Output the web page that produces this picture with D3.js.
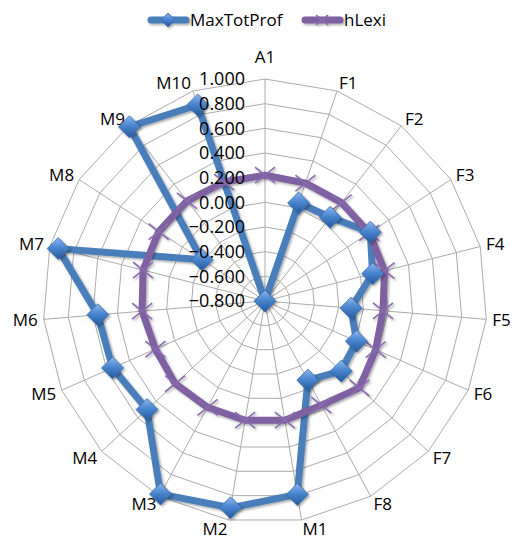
<!DOCTYPE html>
<html>
<head>
<meta charset="utf-8">
<script src="https://cdn.jsdelivr.net/npm/d3@7"></script>
<style>
  html, body { margin: 0; padding: 0; background: #ffffff; }
  svg { display: block; }
  text { font-family: "Open Sans", "Liberation Sans", sans-serif; fill: #000; }
</style>
</head>
<body>
<svg id="chart" width="512" height="543"></svg>
<script>
// ---- data ----
const categories = ["A1","F1","F2","F3","F4","F5","F6","F7","F8","M1","M2","M3","M4","M5","M6","M7","M8","M9","M10"];
const maxTotProf = [-0.80, 0.04, 0.06, 0.22, 0.10, -0.10, 0.01, 0.04, -0.07, 0.79, 0.90, 0.98, 0.50, 0.55, 0.56, 0.93, -0.19, 0.99, 0.88];
const hLexi      = [0.22, 0.21, 0.21, 0.21, 0.20, 0.16, 0.18, 0.24, 0.16, 0.18, 0.18, 0.18, 0.19, 0.17, 0.20, 0.22, 0.23, 0.23, 0.22];
const tickValues = [-0.8, -0.6, -0.4, -0.2, 0.0, 0.2, 0.4, 0.6, 0.8, 1.0];
const seriesNames = ["MaxTotProf", "hLexi"];

// ---- layout ----
const svg = d3.select("#chart");
const cx = 265, cy = 301, R = 222;
const n = categories.length;
const r = d3.scaleLinear().domain([-0.8, 1.0]).range([0, R]);
const ang = d3.scaleLinear().domain([0, n]).range([0, 2 * Math.PI]);
const pt = (i, v) => [cx + r(v) * Math.sin(ang(i)), cy - r(v) * Math.cos(ang(i))];

const defs = svg.append("defs");
const grad = defs.append("linearGradient").attr("id", "diamondGrad")
  .attr("x1", "0").attr("y1", "0").attr("x2", "0").attr("y2", "1");
grad.append("stop").attr("offset", "0%").attr("stop-color", "#8db7ef");
grad.append("stop").attr("offset", "45%").attr("stop-color", "#4a86d0");
grad.append("stop").attr("offset", "100%").attr("stop-color", "#24589a");
const shadow = defs.append("filter").attr("id", "shadow").attr("x", "-20%").attr("y", "-20%").attr("width", "140%").attr("height", "140%");
shadow.append("feDropShadow").attr("dx", 1.5).attr("dy", 1.5).attr("stdDeviation", 1.2).attr("flood-color", "#000").attr("flood-opacity", 0.35);

// ---- grid ----
const grid = svg.append("g");
tickValues.slice(1).forEach(t => {
  grid.append("path")
    .attr("d", d3.line()(d3.range(n).map(i => pt(i, t))) + "Z")
    .attr("fill", "none").attr("stroke", "#ababab").attr("stroke-width", 1);
});
d3.range(n).forEach(i => {
  const [x, y] = pt(i, 1.0);
  grid.append("line").attr("x1", cx).attr("y1", cy).attr("x2", x).attr("y2", y)
    .attr("stroke", "#ababab").attr("stroke-width", 1);
});

// ---- category labels ----
const lab = svg.append("g").style("font-size", "17px");
categories.forEach((c, i) => {
  const a = ang(i), sx = Math.sin(a), cyy = -Math.cos(a);
  const [vx, vy] = pt(i, 1.0);
  let x, y, anchor;
  if (Math.abs(sx) < 0.05) {
    anchor = "middle"; x = vx; y = vy + cyy * 22;
  } else {
    anchor = sx > 0 ? "start" : "end";
    x = vx + sx * 6; y = vy + cyy * 9;
  }
  lab.append("text").attr("x", x).attr("y", y).attr("dy", "0.36em")
    .attr("text-anchor", anchor).text(c);
});

// ---- series ----
const lineGen = d3.line().x(d => d[0]).y(d => d[1]).curve(d3.curveLinearClosed);

const blueG = svg.append("g").attr("filter", "url(#shadow)");
blueG.append("path")
  .attr("d", lineGen(maxTotProf.map((v, i) => pt(i, v))))
  .attr("fill", "none").attr("stroke", "#4a7ebb").attr("stroke-width", 7)
  .attr("stroke-linejoin", "round");

const purpleG = svg.append("g").attr("filter", "url(#shadow)");
purpleG.append("path")
  .attr("d", lineGen(hLexi.map((v, i) => pt(i, v))))
  .attr("fill", "none").attr("stroke", "#7f60a0").attr("stroke-width", 7)
  .attr("stroke-linejoin", "round");

const xMark = (g, x, y, h) => {
  g.append("path")
    .attr("d", `M${x - h},${y - h * 0.8}L${x + h},${y + h * 0.8}M${x - h},${y + h * 0.8}L${x + h},${y - h * 0.8}`)
    .attr("stroke", "#8a6bb0").attr("stroke-width", 1.6).attr("fill", "none");
};
hLexi.forEach((v, i) => { const [x, y] = pt(i, v); xMark(purpleG, x, y, 10); });

const diamond = (g, x, y, h) => {
  g.append("path")
    .attr("d", `M${x},${y - h}L${x + h},${y}L${x},${y + h}L${x - h},${y}Z`)
    .attr("fill", "url(#diamondGrad)").attr("stroke", "#3a6ba8").attr("stroke-width", 0.8);
};
const markG = svg.append("g").attr("filter", "url(#shadow)");
maxTotProf.forEach((v, i) => { const [x, y] = pt(i, v); diamond(markG, x, y, 11); });

// ---- tick labels ----
const tickG = svg.append("g").style("font-size", "18px");
tickValues.forEach(t => {
  tickG.append("text").attr("x", cx - 20).attr("y", cy - r(t)).attr("dy", "0.36em")
    .attr("text-anchor", "end").text(d3.format(".3f")(t));
});

// ---- legend ----
const leg = svg.append("g").style("font-size", "17px");
const legY = 20;
const legItems = [
  { name: seriesNames[0], x0: 148, color: "#4a7ebb", mark: "diamond" },
  { name: seriesNames[1], x0: 302, color: "#7f60a0", mark: "x" }
];
legItems.forEach(it => {
  const g = leg.append("g").attr("filter", "url(#shadow)");
  g.append("line").attr("x1", it.x0 + 3).attr("x2", it.x0 + 38).attr("y1", legY).attr("y2", legY)
    .attr("stroke", it.color).attr("stroke-width", 7).attr("stroke-linecap", "round");
  if (it.mark === "diamond") diamond(g, it.x0 + 20, legY, 7);
  else xMark(g, it.x0 + 20, legY, 6);
  leg.append("text").attr("x", it.x0 + 42).attr("y", legY).attr("dy", "0.36em").text(it.name);
});
</script>
</body>
</html>
